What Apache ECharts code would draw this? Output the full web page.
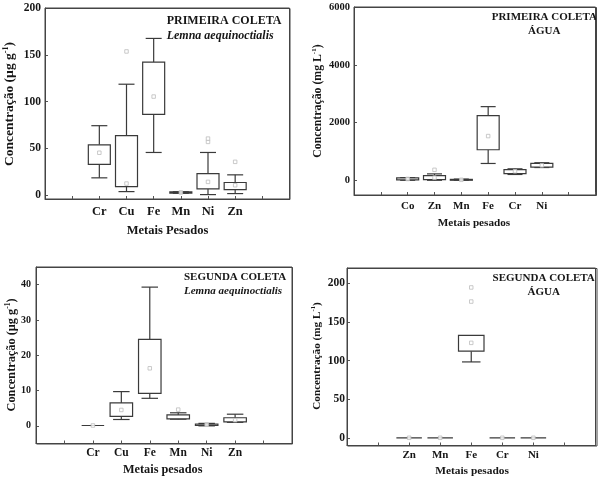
<!DOCTYPE html>
<html>
<head>
<meta charset="utf-8">
<script src="https://cdn.jsdelivr.net/npm/echarts@6/dist/echarts.min.js"></script>
<style>html,body{margin:0;padding:0;background:#fff}#c{width:604px;height:480px}</style>
</head>
<body>
<div id="c"></div>
<script>
// ---------- DATA ----------
// Panel 1: Primeira coleta, Lemna aequinoctialis (µg g-1)
const cats1 = ['Cr', 'Cu', 'Fe', 'Mn', 'Ni', 'Zn'];
// [lower whisker, Q1, Q3, upper whisker]
const box1 = [
  [18.6, 32.9, 53.9, 74.3],
  [3.9, 9.3, 63.6, 118.6],
  [45.7, 86.4, 142.1, 167.5],
  [2.0, 2.2, 3.6, 3.8],
  [0.7, 6.8, 23.2, 45.7],
  [1.8, 6.1, 13.6, 21.8]
];
const marks1 = [
  ['Cr', 45.4], ['Cu', 12.5], ['Cu', 153.6], ['Fe', 105.4], ['Mn', 3.0],
  ['Ni', 14.3], ['Ni', 57.0], ['Ni', 60.5], ['Zn', 10.7], ['Zn', 35.7]
];
const yTicks1 = [0, 50, 100, 150, 200];

// Panel 2: Primeira coleta, água (mg L-1)
const cats2 = ['Co', 'Zn', 'Mn', 'Fe', 'Cr', 'Ni'];
const box2 = [
  [10, 20, 90, 100],
  [10, 30, 170, 230],
  [5, 10, 40, 50],
  [590, 1064, 2243, 2555],
  [210, 240, 380, 405],
  [450, 462, 590, 615]
];
const marks2 = [
  ['Co', 55], ['Zn', 100], ['Zn', 370], ['Mn', 25], ['Fe', 1537], ['Cr', 320], ['Ni', 525]
];
const yTicks2 = [0, 2000, 4000, 6000];

// Panel 3: Segunda coleta, Lemna aequinoctialis (µg g-1)
const cats3 = ['Cr', 'Cu', 'Fe', 'Mn', 'Ni', 'Zn'];
const box3 = [
  [0.1, 0.1, 0.1, 0.1],
  [1.8, 2.7, 6.5, 9.7],
  [7.8, 9.2, 24.5, 39.3],
  [1.9, 2.0, 3.1, 3.7],
  [0.0, 0.1, 0.5, 0.7],
  [1.0, 1.1, 2.3, 3.3]
];
const marks3 = [
  ['Cr', 0.1], ['Cu', 4.5], ['Fe', 16.3], ['Mn', 4.6], ['Ni', 0.3], ['Zn', 1.6]
];
const yTicks3 = [0, 10, 20, 30, 40];

// Panel 4: Segunda coleta, água (mg L-1)
const cats4 = ['Zn', 'Mn', 'Fe', 'Cr', 'Ni'];
const box4 = [
  [0, 0, 0, 0],
  [0, 0, 0, 0],
  [98.3, 112.2, 132.6, 132.6],
  [0, 0, 0, 0],
  [0, 0, 0, 0]
];
const marks4 = [
  ['Zn', 0], ['Mn', 0], ['Fe', 123], ['Fe', 176.5], ['Fe', 194.8], ['Cr', 0], ['Ni', 0]
];
const yTicks4 = [0, 50, 100, 150, 200];

// ---------- LAYOUT ----------
const FONT = "'Liberation Serif', 'Times New Roman', serif";
const INK = '#161616';
const LINE = '#3a3a3a';

const panels = [
  { cats: cats1, box: box1, marks: marks1, ticks: yTicks1, min: -4, max: 200,
    grid: { left: 45, top: 8, width: 244.5, height: 191 },
    xFont: 12.5, xMargin: 6.5, yFont: 11.5, yMargin: 4, boxW: 22, capW: 16 },
  { cats: cats2, box: box2, marks: marks2, ticks: yTicks2, min: -500, max: 6000,
    grid: { left: 354, top: 7, width: 242, height: 188 },
    xFont: 11, xMargin: 6, yFont: 10.5, yMargin: 4, boxW: 22, capW: 15 },
  { cats: cats3, box: box3, marks: marks3, ticks: yTicks3, min: -5, max: 45,
    grid: { left: 36, top: 267, width: 256, height: 176.5 },
    xFont: 11.5, xMargin: 4, yFont: 10, yMargin: 5, boxW: 22.5, capW: 16.5 },
  { cats: cats4, box: box4, marks: marks4, ticks: yTicks4, min: -10, max: 220,
    grid: { left: 347, top: 268, width: 249.5, height: 177.5 },
    xFont: 11, xMargin: 4, yFont: 11.5, yMargin: 2, boxW: 25.5, capW: 18.5 }
];

function padCats(c) {
  return [' ', '  '].concat(c, ['   ', '    ']);
}

function boxRenderer(boxW, capW) {
  return function (params, api) {
    const x = api.value(0);
    const lo = api.coord([x, api.value(1)]);
    const q1 = api.coord([x, api.value(2)]);
    const q3 = api.coord([x, api.value(3)]);
    const hi = api.coord([x, api.value(4)]);
    const cx = q1[0];
    const st = { stroke: LINE, lineWidth: 1.2, fill: null };
    const ch = [];
    if (hi[1] < q3[1] - 0.1) {
      ch.push({ type: 'line', shape: { x1: cx, y1: q3[1], x2: cx, y2: hi[1] }, style: st });
      ch.push({ type: 'line', shape: { x1: cx - capW / 2, y1: hi[1], x2: cx + capW / 2, y2: hi[1] }, style: st });
    }
    if (lo[1] > q1[1] + 0.1) {
      ch.push({ type: 'line', shape: { x1: cx, y1: q1[1], x2: cx, y2: lo[1] }, style: st });
      ch.push({ type: 'line', shape: { x1: cx - capW / 2, y1: lo[1], x2: cx + capW / 2, y2: lo[1] }, style: st });
    }
    ch.push({ type: 'rect', shape: { x: cx - boxW / 2, y: q3[1], width: boxW, height: q1[1] - q3[1] },
      style: { stroke: LINE, lineWidth: 1.2, fill: '#fff' } });
    return { type: 'group', children: ch };
  };
}

const grids = [], xAxes = [], yAxes = [], series = [], frames = [];
panels.forEach((p, i) => {
  grids.push(Object.assign({ show: true, borderColor: '#444', borderWidth: 1, containLabel: false }, p.grid));
  frames.push({
    type: 'rect', silent: true, z: 10,
    shape: { x: p.grid.left + 0.5, y: p.grid.top + 0.5, width: p.grid.width, height: p.grid.height },
    style: { fill: null, stroke: '#444', lineWidth: 1 }
  });
  xAxes.push({
    type: 'category', gridIndex: i, data: padCats(p.cats), boundaryGap: false,
    axisLine: { show: true, onZero: false, lineStyle: { color: '#444', width: 1 } },
    axisTick: { show: true, inside: true, length: 3, interval: 0, lineStyle: { color: '#555', width: 1 } },
    axisLabel: { interval: 0, margin: p.xMargin, fontFamily: FONT, fontWeight: 'bold', fontSize: p.xFont, color: INK },
    splitLine: { show: false }
  });
  yAxes.push({
    type: 'value', gridIndex: i, min: p.min, max: p.max,
    axisLine: { show: true, onZero: false, lineStyle: { color: '#444', width: 1 } },
    axisTick: { show: true, inside: true, length: 3, customValues: p.ticks, lineStyle: { color: '#555', width: 1 } },
    axisLabel: { customValues: p.ticks, margin: p.yMargin, fontFamily: FONT, fontWeight: 'bold', fontSize: p.yFont, color: INK,
      formatter: (v) => String(v) },
    splitLine: { show: false }
  });
  series.push({
    type: 'custom', xAxisIndex: i, yAxisIndex: i, z: 2,
    renderItem: boxRenderer(p.boxW, p.capW),
    encode: { x: 0, y: [1, 2, 3, 4] },
    data: p.box.map((b, k) => [p.cats[k]].concat(b)),
    silent: true
  });
  series.push({
    type: 'scatter', xAxisIndex: i, yAxisIndex: i, z: 3,
    symbol: 'rect', symbolSize: 3.5,
    itemStyle: { color: '#fff', borderColor: '#bdbdbd', borderWidth: 1 },
    data: p.marks, silent: true
  });
});

function txt(x, y, text, size, opts) {
  return Object.assign({
    type: 'text', x: x, y: y, silent: true,
    style: Object.assign({ text: text, fill: INK, fontFamily: FONT, fontWeight: 'bold', fontSize: size,
      align: 'center', verticalAlign: 'middle' }, (opts && opts.style) || {})
  }, (opts && opts.el) || {});
}

function yTitle(x, y, unit, size) {
  return {
    type: 'text', x: x, y: y, rotation: Math.PI / 2, silent: true,
    style: {
      text: '{t|Concentração (' + unit + '}{s|-1}{t|)}',
      align: 'center', verticalAlign: 'middle', fill: INK,
      rich: {
        t: { fontFamily: FONT, fontWeight: 'bold', fontSize: size, fill: INK, lineHeight: size + 2 },
        s: { fontFamily: FONT, fontWeight: 'bold', fontSize: size * 0.6, fill: INK, verticalAlign: 'top', lineHeight: size + 2 }
      }
    }
  };
}

const graphics = frames.concat([
  // panel 1
  txt(166.7, 20.7, 'PRIMEIRA COLETA', 12, { style: { align: 'left' } }),
  txt(166.7, 36, 'Lemna aequinoctialis', 12, { style: { align: 'left', fontStyle: 'italic' } }),
  txt(167.5, 230.7, 'Metais Pesados', 12.5),
  yTitle(10, 104, 'µg g', 13.5),
  // panel 2
  txt(544.3, 16.7, 'PRIMEIRA COLETA', 11),
  txt(544.3, 30.7, 'ÁGUA', 11),
  txt(474, 223.3, 'Metais pesados', 11.2),
  yTitle(318, 101, 'mg L', 11.8),
  // panel 3
  txt(184, 277.3, 'SEGUNDA COLETA', 11, { style: { align: 'left' } }),
  txt(184, 290.7, 'Lemna aequinoctialis', 11, { style: { align: 'left', fontStyle: 'italic' } }),
  txt(162.7, 470, 'Metais pesados', 12.3),
  yTitle(11.7, 355, 'µg g', 12.3),
  // panel 4
  txt(543.7, 278.3, 'SEGUNDA COLETA', 11),
  txt(543.7, 291.7, 'ÁGUA', 11),
  txt(472, 470.7, 'Metais pesados', 11.4),
  yTitle(316.7, 356, 'mg L', 11.2)
]);

const chart = echarts.init(document.getElementById('c'), null, { renderer: 'canvas' });
chart.setOption({
  animation: false,
  backgroundColor: '#fff',
  grid: grids, xAxis: xAxes, yAxis: yAxes, series: series,
  graphic: graphics
});
</script>
</body>
</html>
